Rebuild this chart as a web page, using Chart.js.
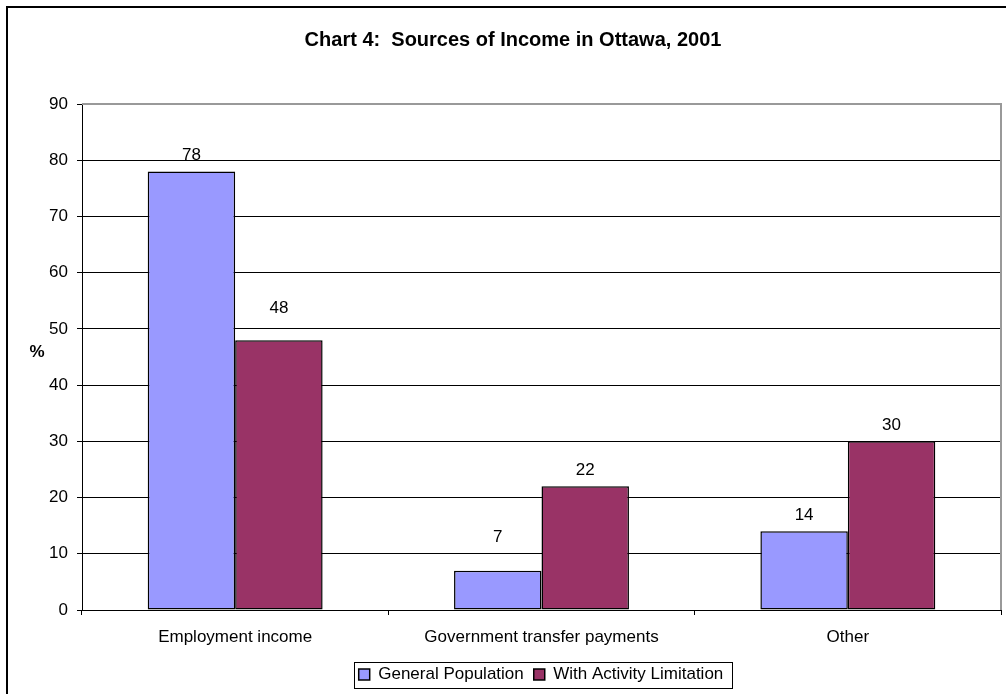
<!DOCTYPE html>
<html>
<head>
<meta charset="utf-8">
<title>Sources of Income in Ottawa, 2001</title>
<script src="https://cdn.jsdelivr.net/npm/chart.js@4.4.1/dist/chart.umd.min.js"></script>
<style>
  html, body { margin: 0; padding: 0; background: #fff; }
  #wrap { width: 1006px; height: 694px; }
</style>
</head>
<body>
<div id="wrap"><canvas id="incomeChart" width="1006" height="694"></canvas></div>
<script>
const categories = ['Employment income', 'Government transfer payments', 'Other'];
const generalPopulation = [78, 7, 14];
const withActivityLimitation = [48, 22, 30];
const yMin = 0;
const yMax = 90;
const yStep = 10;

// how far each value label sits above its bar (px), per dataset
const labelLift = [[17, 35, 17], [33, 17, 17]];

const FONT = "'Liberation Sans', Arial, sans-serif";
Chart.defaults.font.family = FONT;
Chart.defaults.color = '#000';

// white page, heavy frame on the left and top
const frame = {
    id: 'frame',
    beforeDraw(chart) {
        const ctx = chart.ctx;
        ctx.save();
        ctx.fillStyle = '#fff';
        ctx.fillRect(0, 0, chart.width, chart.height);
        ctx.strokeStyle = '#000';
        ctx.lineWidth = 2;
        ctx.beginPath();
        ctx.moveTo(7, chart.height + 5);
        ctx.lineTo(7, 7);
        ctx.lineTo(chart.width + 5, 7);
        ctx.stroke();
        ctx.restore();
    },
    afterLayout(chart) {
        // nudge title and legend sideways
        const t = chart.titleBlock;
        const dt = 513 - (t.left + t.right) / 2;
        t.left += dt; t.right += dt;
        const l = chart.legend;
        const dl = 541 - (l.left + l.right) / 2;
        l.left += dl; l.right += dl;
    },
    afterDraw(chart) {
        const ctx = chart.ctx;
        const a = chart.chartArea;
        ctx.save();

        // plot area edge on the right
        ctx.strokeStyle = '#999';
        ctx.lineWidth = 2;
        ctx.beginPath();
        ctx.moveTo(a.left, a.top);
        ctx.lineTo(a.right, a.top);
        ctx.lineTo(a.right, a.bottom);
        ctx.stroke();

        // "%" axis title, upright
        ctx.fillStyle = '#000';
        ctx.font = 'bold 17px ' + FONT;
        ctx.textAlign = 'center';
        ctx.textBaseline = 'middle';
        ctx.fillText('%', 37, (a.top + a.bottom) / 2 - 5);

        // box round the legend
        const boxes = chart.legend.legendHitBoxes;
        if (boxes && boxes.length) {
            const first = boxes[0];
            const last = boxes[boxes.length - 1];
            const cy = first.top + first.height / 2;
            const left = Math.round(first.left - 5) + 0.5;
            const right = Math.round(last.left + last.width + 9) + 0.5;
            const top = Math.round(cy - 13) + 0.5;
            ctx.strokeStyle = '#000';
            ctx.lineWidth = 1;
            ctx.strokeRect(left, top, right - left, 26);
        }
        ctx.restore();
    }
};

// value printed above each bar
const barValues = {
    id: 'barValues',
    afterDatasetsDraw(chart) {
        const ctx = chart.ctx;
        ctx.save();
        ctx.fillStyle = '#000';
        ctx.font = '17px ' + FONT;
        ctx.textAlign = 'center';
        ctx.textBaseline = 'alphabetic';
        chart.data.datasets.forEach((ds, i) => {
            chart.getDatasetMeta(i).data.forEach((bar, j) => {
                ctx.fillText(String(ds.data[j]), bar.x, bar.y - labelLift[i][j] + 6);
            });
        });
        ctx.restore();
    }
};

new Chart(document.getElementById('incomeChart'), {
    type: 'bar',
    data: {
        labels: categories,
        datasets: [
            {
                label: 'General Population',
                data: generalPopulation,
                backgroundColor: '#9999FF',
                borderColor: '#000',
                borderWidth: 1.5,
                borderSkipped: false
            },
            {
                label: 'With Activity Limitation',
                data: withActivityLimitation,
                backgroundColor: '#993366',
                borderColor: '#000',
                borderWidth: 1.5,
                borderSkipped: false
            }
        ]
    },
    options: {
        responsive: false,
        animation: false,
        events: [],
        categoryPercentage: 0.571,
        barPercentage: 1.0,
        layout: { padding: { left: 0, right: 5, top: 0, bottom: 1 } },
        scales: {
            x: {
                offset: true,
                grid: {
                    offset: true,
                    drawOnChartArea: false,
                    drawTicks: true,
                    tickLength: 5,
                    color: '#000'
                },
                border: { color: '#000', width: 1 },
                ticks: {
                    font: { size: 17 },
                    color: '#000',
                    padding: 12,
                    maxRotation: 0,
                    autoSkip: false
                },
                afterFit(scale) { scale.height = 46; }
            },
            y: {
                min: yMin,
                max: yMax,
                grid: {
                    color: ctx => ctx.tick && ctx.tick.value === yMax ? '#999' : '#000',
                    tickColor: '#000',
                    tickLength: 5,
                    lineWidth: 1
                },
                border: { color: '#000', width: 1 },
                ticks: {
                    stepSize: yStep,
                    font: { size: 17 },
                    color: '#000',
                    padding: 9
                },
                afterFit(scale) { scale.width = 82; }
            }
        },
        plugins: {
            title: {
                display: true,
                text: 'Chart 4:  Sources of Income in Ottawa, 2001',
                color: '#000',
                font: { size: 20, weight: 'bold' },
                padding: { top: 28, bottom: 52 }
            },
            legend: {
                position: 'bottom',
                labels: {
                    boxWidth: 11,
                    boxHeight: 11,
                    padding: 10,
                    color: '#000',
                    font: { size: 17 }
                }
            },
            tooltip: { enabled: false }
        }
    },
    plugins: [frame, barValues]
});
</script>
</body>
</html>
